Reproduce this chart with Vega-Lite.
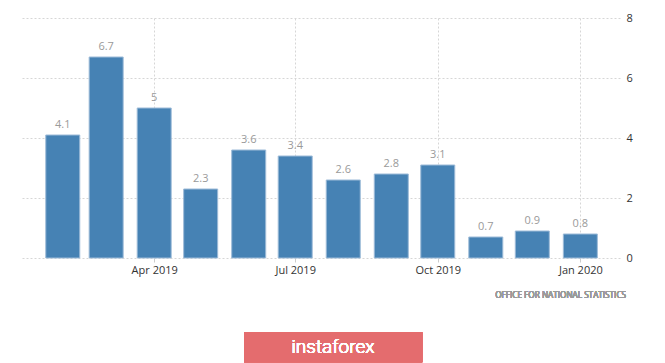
{
  "$schema": "https://vega.github.io/schema/vega-lite/v6.json",
  "width": 600,
  "height": 240,
  "autosize": "none",
  "padding": {"left": 20, "top": 18, "right": 45, "bottom": 105},
  "background": "white",
  "config": {"view": {"stroke": null}, "font": "Open Sans"},
  "data": {
    "values": [
      {"date": "2019-02-01", "value": 4.1},
      {"date": "2019-03-01", "value": 6.7},
      {"date": "2019-04-01", "value": 5},
      {"date": "2019-05-01", "value": 2.3},
      {"date": "2019-06-01", "value": 3.6},
      {"date": "2019-07-01", "value": 3.4},
      {"date": "2019-08-01", "value": 2.6},
      {"date": "2019-09-01", "value": 2.8},
      {"date": "2019-10-01", "value": 3.1},
      {"date": "2019-11-01", "value": 0.7},
      {"date": "2019-12-01", "value": 0.9},
      {"date": "2020-01-01", "value": 0.8}
    ]
  },
  "layer": [
    {
      "mark": {"type": "bar", "width": 34, "color": "#4682b4", "stroke": "#9dbbd8", "strokeWidth": 1},
      "encoding": {
        "x": {
          "field": "date",
          "type": "temporal",
          "scale": {"type": "utc", "domain": [1546594560000, 1580048640000], "padding": 0},
          "axis": {
            "title": null,
            "values": [1554076800000, 1561939200000, 1569888000000, 1577836800000],
            "format": "%b %Y",
            "grid": true,
            "gridColor": "#d6d6d6",
            "gridDash": [2, 2],
            "domain": false,
            "ticks": true,
            "tickSize": 4,
            "tickColor": "#cccccc",
            "labelColor": "#333333",
            "labelFontSize": 11,
            "labelPadding": 2
          }
        },
        "y": {
          "field": "value",
          "type": "quantitative",
          "scale": {"domain": [0, 8], "nice": false},
          "axis": {
            "title": null,
            "orient": "right",
            "values": [0, 2, 4, 6, 8],
            "grid": true,
            "gridColor": "#d6d6d6",
            "gridDash": [2, 2],
            "domain": false,
            "ticks": false,
            "labelPadding": 6,
            "labelColor": "#333333",
            "labelFontSize": 11
          }
        }
      }
    },
    {
      "mark": {"type": "text", "baseline": "bottom", "dy": -5, "color": "#9a9a9a", "fontSize": 11},
      "encoding": {
        "x": {"field": "date", "type": "temporal"},
        "y": {"field": "value", "type": "quantitative"},
        "text": {"field": "value", "type": "quantitative"}
      }
    },
    {
      "mark": {"type": "text", "baseline": "middle", "align": "right", "color": "#9a9a9a", "fontSize": 8.2, "fontWeight": "normal", "text": "OFFICE FOR NATIONAL STATISTICS"},
      "encoding": {
        "x": {"datum": {"year": 2020, "month": 1, "date": 30, "hours": 12, "utc": true}, "type": "temporal"},
        "y": {"datum": -1.277, "type": "quantitative"}
      }
    },
    {
      "mark": {"type": "rect", "color": "#e46c6e"},
      "encoding": {
        "x": {"datum": {"year": 2019, "month": 5, "date": 29, "utc": true}, "type": "temporal"},
        "x2": {"datum": {"year": 2019, "month": 9, "date": 21, "utc": true}},
        "y": {"datum": -2.477, "type": "quantitative"},
        "y2": {"datum": -3.477}
      }
    },
    {
      "mark": {"type": "text", "color": "white", "fontSize": 19, "fontWeight": 300, "font": "Roboto", "baseline": "middle", "align": "center", "text": "instaforex"},
      "encoding": {
        "x": {"datum": {"year": 2019, "month": 7, "date": 25, "hours": 10, "utc": true}, "type": "temporal"},
        "y": {"datum": -2.98, "type": "quantitative"}
      }
    }
  ]
}
